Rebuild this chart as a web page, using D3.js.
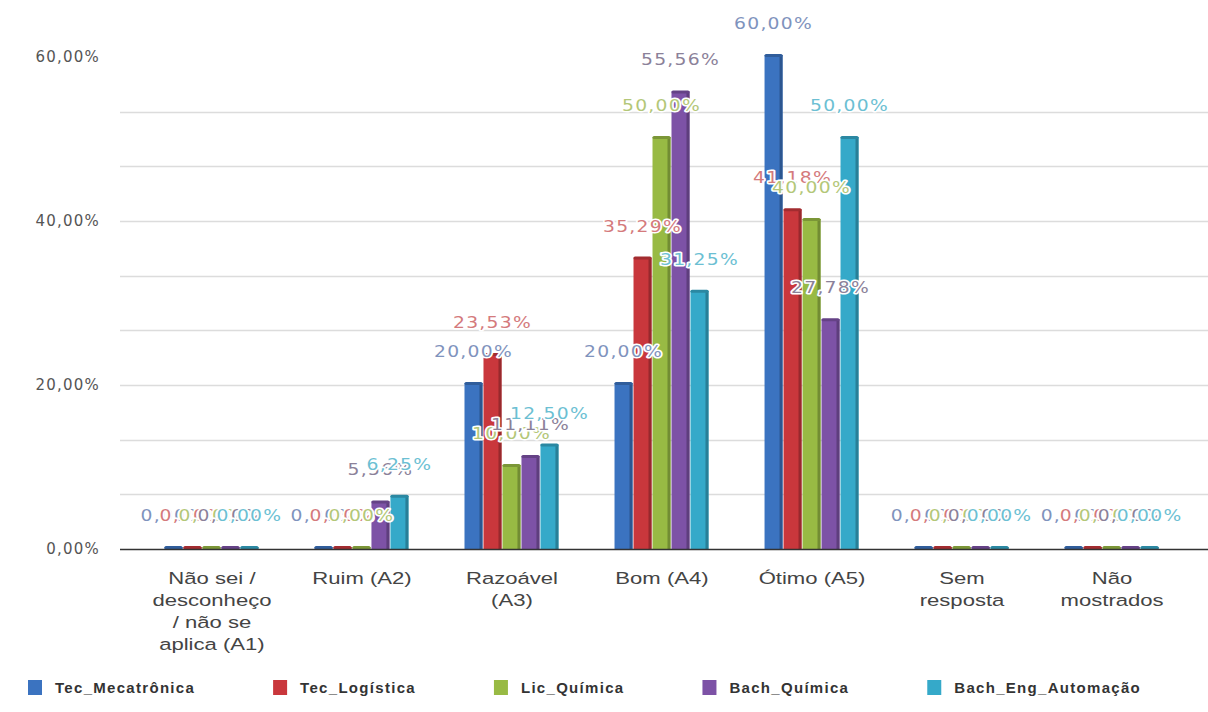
<!DOCTYPE html>
<html>
<head>
<meta charset="utf-8">
<script src="https://cdn.jsdelivr.net/npm/d3@7"></script>
<style>
  body { margin: 0; background: #fff; }
  svg { display: block; }
  .tick-label { font-family: "DejaVu Sans", sans-serif; font-size: 15px; fill: #555; letter-spacing: 1.2px; }
  .cat-label { font-family: "Liberation Sans", Arial, sans-serif; font-size: 17px; fill: #444; }
  .val-label { font-family: "DejaVu Sans", sans-serif; font-size: 15px; letter-spacing: 1px;
               paint-order: stroke; stroke: #fff; stroke-width: 3px; stroke-linejoin: round; }
  .legend-label { font-family: "Liberation Sans", Arial, sans-serif; font-size: 15px; font-weight: bold; fill: #333; letter-spacing: 1.3px; }
</style>
</head>
<body>
<svg id="chart" width="1208" height="712"></svg>
<script>
// categories (x axis), multi-line labels
const categories = ['A1', 'A2', 'A3', 'A4', 'A5', 'SR', 'NM'];
const categoryLabels = [
  ['Não sei /', 'desconheço', '/ não se', 'aplica (A1)'],
  ['Ruim (A2)'],
  ['Razoável', '(A3)'],
  ['Bom (A4)'],
  ['Ótimo (A5)'],
  ['Sem', 'resposta'],
  ['Não', 'mostrados']
];

const seriesNames = ['Tec_Mecatrônica', 'Tec_Logística', 'Lic_Química', 'Bach_Química', 'Bach_Eng_Automação'];
const seriesColors = ['#3b73c0', '#c9373c', '#98ba44', '#7d52a6', '#35a9c9'];
const labelColors = ['#7f93bd', '#d47a7c', '#b3c778', '#8b8199', '#6cbfd3'];

// percentages per series, in category order
const tecMecatronica = [0, 0, 20.00, 20.00, 60.00, 0, 0];
const tecLogistica   = [0, 0, 23.53, 35.29, 41.18, 0, 0];
const licQuimica     = [0, 0, 10.00, 50.00, 40.00, 0, 0];
const bachQuimica    = [0, 5.56, 11.11, 55.56, 27.78, 0, 0];
const bachEngAutom   = [0, 6.25, 12.50, 31.25, 50.00, 0, 0];
const seriesValues = [tecMecatronica, tecLogistica, licQuimica, bachQuimica, bachEngAutom];

const yTicks = [0, 20, 40, 60];

const svg = d3.select('#chart');
const left = 120, right = 1208, plotLeft = 137, plotRight = 1187;
const fmt = v => v.toFixed(2).replace('.', ',') + '%';

const y = d3.scaleLinear().domain([0, 60]).range([549, 57]);
const x0 = d3.scaleBand().domain(categories).range([plotLeft, plotRight])
  .paddingInner(0.367).paddingOuter(0.183);
const x1 = d3.scaleBand().domain(d3.range(seriesNames.length)).range([0, x0.bandwidth()]);

// gridlines (major every 20, minor every 20/3)
const gridVals = d3.range(0, 9).map(i => i * 20 / 3).filter(v => v > 0.01);
svg.append('g').selectAll('line')
  .data(gridVals)
  .join('line')
  .attr('x1', left).attr('x2', right)
  .attr('y1', d => Math.round(y(d)) + 0.5).attr('y2', d => Math.round(y(d)) + 0.5)
  .attr('stroke', '#dcdcdc').attr('stroke-width', 1.5);

// y tick labels
svg.append('g').selectAll('text')
  .data(yTicks)
  .join('text')
  .attr('class', 'tick-label')
  .attr('x', 100).attr('y', d => y(d) + 5)
  .attr('text-anchor', 'end')
  .text(fmt);

// bars
const barData = [];
categories.forEach((c, ci) => {
  seriesValues.forEach((vals, si) => barData.push({ cat: c, s: si, v: vals[ci] }));
});

const bars = svg.append('g').selectAll('g')
  .data(barData)
  .join('g')
  .attr('transform', d => `translate(${x0(d.cat) + x1(d.s)},0)`);

const bw = x1.bandwidth() - 1;
bars.append('rect')
  .attr('x', 0).attr('width', bw)
  .attr('y', d => y(d.v) - 2)
  .attr('height', d => y(0) - y(d.v) + 2)
  .attr('fill', d => seriesColors[d.s]);
// darker right edge and top cap for the 3D look
bars.append('rect')
  .attr('x', bw - 3).attr('width', 3)
  .attr('y', d => y(d.v) - 2)
  .attr('height', d => y(0) - y(d.v) + 2)
  .attr('fill', d => d3.color(seriesColors[d.s]).darker(0.8));
bars.append('rect')
  .attr('x', 0).attr('width', bw)
  .attr('y', d => y(d.v) - 3)
  .attr('height', 3)
  .attr('rx', 1.5)
  .attr('fill', d => d3.color(seriesColors[d.s]).darker(0.6));

// x axis line
svg.append('line')
  .attr('x1', left).attr('x2', right)
  .attr('y1', y(0) + 0.5).attr('y2', y(0) + 0.5)
  .attr('stroke', '#333').attr('stroke-width', 1.5);

// category labels (text is stretched horizontally like the source)
const catG = svg.append('g').selectAll('g')
  .data(categories)
  .join('g')
  .attr('transform', d => `translate(${x0(d) + x0.bandwidth() / 2},584) scale(1.3,1)`);
catG.append('text')
  .attr('class', 'cat-label')
  .attr('text-anchor', 'middle')
  .selectAll('tspan')
  .data((d, i) => categoryLabels[i])
  .join('tspan')
  .attr('x', 0)
  .attr('dy', (d, i) => i === 0 ? 0 : 22)
  .text(d => d);

// value labels
svg.append('g').selectAll('g')
  .data(barData.slice().sort((a, b) => a.s - b.s))
  .join('g')
  .attr('transform', d => `translate(${x0(d.cat) + x1(d.s) + bw / 2},${y(d.v) - 28}) scale(1.25,1)`)
  .append('text')
  .attr('class', 'val-label')
  .attr('text-anchor', 'middle')
  .attr('fill', d => labelColors[d.s])
  .text(d => fmt(d.v));

// legend
const legend = svg.append('g').attr('transform', 'translate(28,680)');
let lx = 0;
seriesNames.forEach((name, i) => {
  const g = legend.append('g').attr('transform', `translate(${lx},0)`);
  g.append('rect').attr('width', 14).attr('height', 15).attr('fill', seriesColors[i]);
  const t = g.append('text').attr('class', 'legend-label')
    .attr('x', 27).attr('y', 13).text(name);
  lx += 27 + t.node().getComputedTextLength() + 78;
});
</script>
</body>
</html>
